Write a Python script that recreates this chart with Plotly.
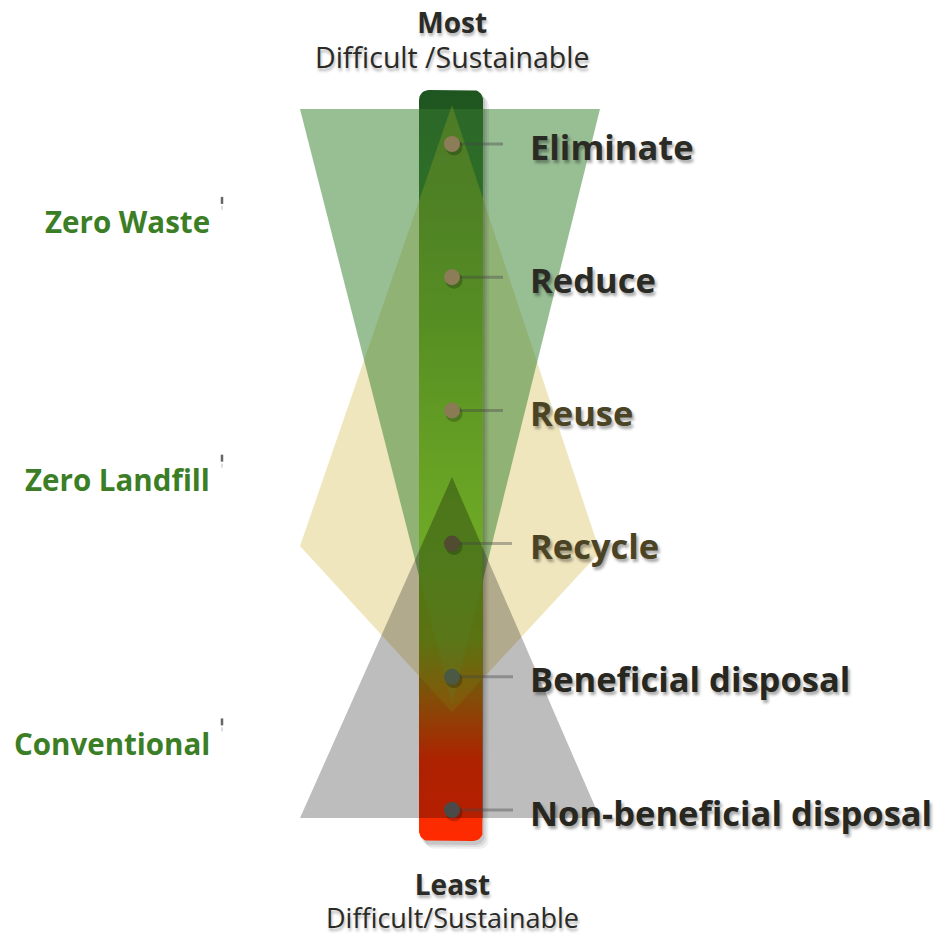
import numpy as np
import plotly.graph_objects as go

# ---------------- data ----------------
levels = ["Eliminate", "Reduce", "Reuse", "Recycle",
          "Beneficial disposal", "Non-beneficial disposal"]
level_index = [0, 1, 2, 3, 4, 5]
strategies = ["Zero Waste", "Zero Landfill", "Conventional"]
strategy_pos = [0.585, 2.52, 4.5]
top_title, top_sub = "Most", "Difficult /Sustainable"
bottom_title, bottom_sub = "Least", "Difficult/Sustainable"

# ---------------- style / geometry ----------------
W, H = 939, 938
PX_TOP, PX_STEP = 144.0, 133.2          # pixel row of level 0 and spacing


def lv(px):
    return (px - PX_TOP) / PX_STEP


CX = 452
BAR_X0, BAR_X1 = 419, 483
BAR_Y0, BAR_Y1 = lv(90), lv(841)
FONT = "Open Sans"

dot_colors = ["#8c7d58", "#8c7d58", "#8a7b55", "#514b31", "#4b5843", "#4a4b48"]
label_colors = ["#2b2b26", "#2b2b26", "#4a4324", "#4a4324", "#27271f", "#27271f"]
connector_end = [503, 503, 503, 512, 513, 513]

yellow_poly = [(CX, lv(105)), (300, lv(546)), (CX, lv(712)), (600, lv(552))]
green_poly = [(300, lv(109)), (600, lv(109)), (CX, lv(705))]
gray_poly = [(CX, lv(477)), (600, lv(818)), (300, lv(818))]


def clip_x(poly, xmin, xmax):
    def clip(pts, keep, cut):
        out = []
        n = len(pts)
        for i in range(n):
            p, q = pts[i], pts[(i + 1) % n]
            ip, iq = keep(p), keep(q)
            if ip:
                out.append(p)
            if ip != iq:
                out.append(cut(p, q))
        return out

    def cut_at(xc):
        def f(p, q):
            t = (xc - p[0]) / (q[0] - p[0])
            return (xc, p[1] + t * (q[1] - p[1]))
        return f

    pts = clip(poly, lambda p: p[0] >= xmin, cut_at(xmin))
    pts = clip(pts, lambda p: p[0] <= xmax, cut_at(xmax))
    return pts


def rounded_rect(x0, x1, y0, y1, r):
    ry = r / PX_STEP
    xs, ys = [], []
    for (cx, cy, a0) in [(x0 + r, y0 + ry, np.pi), (x1 - r, y0 + ry, 1.5 * np.pi),
                         (x1 - r, y1 - ry, 0.0), (x0 + r, y1 - ry, 0.5 * np.pi)]:
        t = np.linspace(a0, a0 + 0.5 * np.pi, 10)
        xs += list(cx + r * np.cos(t))
        ys += list(cy + ry * np.sin(t))
    xs.append(xs[0]); ys.append(ys[0])
    return xs, ys


def poly_trace(poly, color):
    xs = [p[0] for p in poly] + [poly[0][0]]
    ys = [p[1] for p in poly] + [poly[0][1]]
    return go.Scatter(x=xs, y=ys, mode="lines", fill="toself", fillcolor=color,
                      line=dict(width=0), hoverinfo="skip", showlegend=False)


fig = go.Figure()

# outer translucent triangles
fig.add_trace(poly_trace(yellow_poly, "rgba(226,206,126,0.5)"))
fig.add_trace(poly_trace(green_poly, "rgba(58,130,50,0.52)"))
fig.add_trace(poly_trace(gray_poly, "rgba(0,0,0,0.26)"))

# bar shadow
for off, a in [(6, 0.06), (4, 0.08), (2, 0.1)]:
    sx, sy = rounded_rect(BAR_X0 + off, BAR_X1 + off, BAR_Y0 + off / PX_STEP,
                          BAR_Y1 + (off + 2) / PX_STEP, 10)
    fig.add_trace(go.Scatter(x=sx, y=sy, mode="lines", fill="toself",
                             fillcolor=f"rgba(0,0,0,{a})", line=dict(width=0),
                             hoverinfo="skip", showlegend=False))

# gradient bar
bx, by = rounded_rect(BAR_X0, BAR_X1, BAR_Y0, BAR_Y1, 10)
span = 841 - 90
stops = [(90, "#1f5520"), (200, "#21601d"), (330, "#30781b"), (470, "#4b961d"),
         (560, "#56a41f"), (640, "#6e9a18"), (700, "#b86a0c"), (760, "#f03000"),
         (841, "#ff2a00")]
cscale = [[(p - 90) / span, c] for p, c in stops]
fig.add_trace(go.Scatter(x=bx, y=by, mode="lines", fill="toself",
                         fillgradient=dict(type="vertical", colorscale=cscale,
                                           start=BAR_Y0, stop=BAR_Y1),
                         line=dict(width=0), hoverinfo="skip", showlegend=False))

# inner overlays (clipped to bar)
fig.add_trace(poly_trace(clip_x(yellow_poly, BAR_X0, BAR_X1), "rgba(175,172,25,0.28)"))
fig.add_trace(poly_trace(clip_x(green_poly, BAR_X0, BAR_X1), "rgba(110,190,90,0.16)"))
fig.add_trace(poly_trace(clip_x(gray_poly, BAR_X0, BAR_X1), "rgba(0,0,0,0.28)"))

# connectors
for i, lvl in enumerate(level_index):
    fig.add_trace(go.Scatter(x=[CX, connector_end[i]], y=[lvl, lvl], mode="lines",
                             line=dict(color="rgba(70,70,70,0.4)", width=3),
                             hoverinfo="skip", showlegend=False))

# dots (shadow + dot)
fig.add_trace(go.Scatter(x=[CX + 2] * len(level_index),
                         y=[l + 3 / PX_STEP for l in level_index], mode="markers",
                         marker=dict(size=17, color="rgba(0,0,0,0.22)"),
                         hoverinfo="skip", showlegend=False))
fig.add_trace(go.Scatter(x=[CX] * len(level_index), y=level_index, mode="markers",
                         marker=dict(size=16, color=dot_colors, line=dict(width=0)),
                         hoverinfo="text", text=levels, showlegend=False))

shadow = "2px 3px 3px rgba(0,0,0,0.35)"
ann = []
for i, (name, lvl) in enumerate(zip(levels, level_index)):
    ann.append(dict(x=528, y=lvl + 2 / PX_STEP, text=name, xanchor="left",
                    yanchor="middle", showarrow=False,
                    font=dict(family=FONT, size=34.5, weight="bold",
                              color=label_colors[i], shadow=shadow)))
for name, pos in zip(strategies, strategy_pos):
    ann.append(dict(x=212, y=pos, text=name, xanchor="right", yanchor="middle",
                    showarrow=False,
                    font=dict(family=FONT, size=29.5, weight="bold", color="#3b7e26")))

# two-line end captions (single annotation each)
for title, sub, cy, base, big, small in [(top_title, top_sub, 39.5, 27, 28, 28.5),
                                         (bottom_title, bottom_sub, 900, 25.5, 28, 27)]:
    txt = (f"<span style='font-size:{big}px'><b>{title}</b></span><br>"
           f"<span style='font-size:{small}px'>{sub}</span>")
    ann.append(dict(x=CX, y=lv(cy), text=txt, xanchor="center", yanchor="middle",
                    showarrow=False, borderpad=0,
                    font=dict(family=FONT, size=base, color="#2a2a26",
                              shadow="1px 3px 3px rgba(0,0,0,0.3)")))

shapes = []
for pos in strategy_pos:
    shapes.append(dict(type="line", xref="x", yref="y", x0=222, x1=222,
                       y0=pos - 25 / PX_STEP, y1=pos - 18 / PX_STEP,
                       line=dict(color="#666666", width=2.5)))
    shapes.append(dict(type="line", xref="x", yref="y", x0=222, x1=222,
                       y0=pos - 16 / PX_STEP, y1=pos - 12 / PX_STEP,
                       line=dict(color="#bbbbbb", width=1)))

fig.update_layout(
    width=W, height=H, margin=dict(l=0, r=0, t=0, b=0),
    paper_bgcolor="white", plot_bgcolor="white",
    xaxis=dict(range=[0, W], visible=False, fixedrange=True),
    yaxis=dict(range=[lv(H), lv(0)], visible=False, fixedrange=True),
    annotations=ann, shapes=shapes, showlegend=False,
)

fig.write_html("out.html", config={"displayModeBar": False},
               post_script="document.body.style.margin='0';")
